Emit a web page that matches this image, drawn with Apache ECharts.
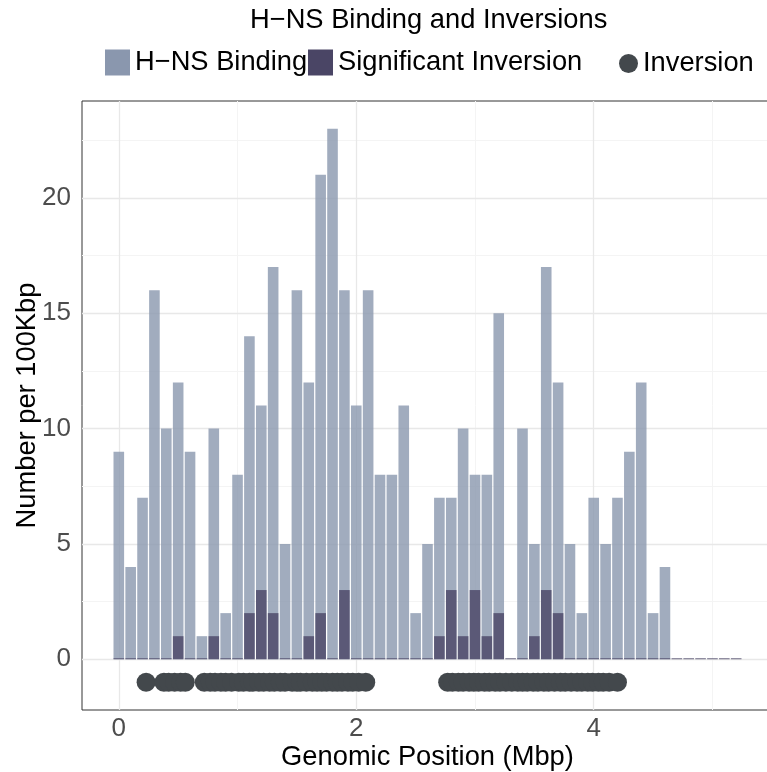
<!DOCTYPE html>
<html>
<head>
<meta charset="utf-8">
<script src="https://cdn.jsdelivr.net/npm/echarts@6/dist/echarts.min.js"></script>
<style>
  html, body { margin: 0; padding: 0; background: #fff; }
  #chart { width: 767px; height: 772px; }
</style>
</head>
<body>
<div id="chart"></div>
<script>
// 100 kbp bins along the genome (start position, Mbp)
const binStart = [
  0.0, 0.1, 0.2, 0.3, 0.4, 0.5, 0.6, 0.7, 0.8, 0.9,
  1.0, 1.1, 1.2, 1.3, 1.4, 1.5, 1.6, 1.7, 1.8, 1.9,
  2.0, 2.1, 2.2, 2.3, 2.4, 2.5, 2.6, 2.7, 2.8, 2.9,
  3.0, 3.1, 3.2, 3.3, 3.4, 3.5, 3.6, 3.7, 3.8, 3.9,
  4.0, 4.1, 4.2, 4.3, 4.4, 4.5, 4.6, 4.7, 4.8, 4.9,
  5.0, 5.1, 5.2
];

// H-NS binding sites per bin
const hnsBinding = [
  9, 4, 7, 16, 10, 12, 9, 1, 10, 2,
  8, 14, 11, 17, 5, 16, 12, 21, 23, 16,
  11, 16, 8, 8, 11, 2, 5, 7, 7, 10,
  8, 8, 15, 0, 10, 5, 17, 12, 5, 2,
  7, 5, 7, 9, 12, 2, 4, 0, 0, 0,
  0, 0, 0
];

// significant inversions per bin
const sigInversion = [
  0, 0, 0, 0, 0, 1, 0, 0, 1, 0,
  0, 2, 3, 2, 0, 0, 1, 2, 0, 3,
  0, 0, 0, 0, 0, 0, 0, 1, 3, 1,
  3, 1, 2, 0, 0, 1, 3, 2, 0, 0,
  0, 0, 0, 0, 0, 0, 0, 0, 0, 0,
  0, 0, 0
];

// individual inversion positions (Mbp), drawn on a strip below the bars
const inversionPos = [
  0.23, 0.38, 0.42, 0.47, 0.52, 0.56,
  0.72, 0.77, 0.81, 0.86, 0.90, 0.95, 1.01, 1.05, 1.10, 1.13, 1.18, 1.22,
  1.27, 1.31, 1.36, 1.40, 1.46, 1.50, 1.53, 1.58, 1.63, 1.67, 1.71, 1.75,
  1.80, 1.84, 1.88, 1.93, 1.97, 2.02, 2.08,
  2.77, 2.81, 2.86, 2.90, 2.95, 2.99, 3.03, 3.08, 3.12, 3.17, 3.21, 3.26,
  3.31, 3.36, 3.40, 3.44, 3.49, 3.53, 3.58, 3.62, 3.67, 3.72, 3.76, 3.81,
  3.86, 3.90, 3.95, 3.99, 4.04, 4.08, 4.13, 4.20
];
const inversionY = -1;

// axis ticks and grid lines
const xTicks = [0, 2, 4];
const xMinor = [1, 3, 5];
const yTicks = [0, 5, 10, 15, 20];
const yMinor = [2.5, 7.5, 12.5, 17.5, 22.5];

const FONT = 'Liberation Sans';
const TEXT_SIZE = 27.3;

const chart = echarts.init(document.getElementById('chart'), null, { renderer: 'canvas' });

const majorStyle = { color: '#e8e8e8', width: 1.3, type: 'solid' };
const minorStyle = { color: '#f4f4f4', width: 1, type: 'solid' };
const gridLines = [].concat(
  xMinor.map(v => ({ xAxis: v, lineStyle: minorStyle })),
  yMinor.map(v => ({ yAxis: v, lineStyle: minorStyle })),
  xTicks.map(v => ({ xAxis: v, lineStyle: majorStyle })),
  yTicks.map(v => ({ yAxis: v, lineStyle: majorStyle }))
);

const legendText = { fontFamily: FONT, fontSize: TEXT_SIZE, color: '#000' };

chart.setOption({
  animation: false,
  title: {
    text: 'H\u2212NS Binding and Inversions',
    left: 245,
    top: 2,
    textStyle: { fontFamily: FONT, fontSize: TEXT_SIZE, fontWeight: 'normal', color: '#000' }
  },
  legend: [
    {
      data: [{ name: 'H\u2212NS Binding', icon: 'rect' }],
      left: 100, top: 44, itemWidth: 25, itemHeight: 26,
      itemStyle: { opacity: 1 },
      textStyle: legendText
    },
    {
      data: [{ name: 'Significant Inversion', icon: 'rect' }],
      left: 303, top: 44, itemWidth: 25, itemHeight: 26,
      itemStyle: { opacity: 1 },
      textStyle: legendText
    },
    {
      data: [{ name: 'Inversion', icon: 'circle' }],
      left: 614, top: 45, itemWidth: 19, itemHeight: 19,
      itemStyle: { opacity: 1 },
      textStyle: legendText
    }
  ],
  grid: {
    left: 82, top: 101, width: 691, height: 609,
    outerBoundsMode: 'none',
    containLabel: false,
    show: true, borderColor: '#333', borderWidth: 1, backgroundColor: '#fff'
  },
  xAxis: {
    type: 'value',
    min: -0.31, max: 5.51,
    name: 'Genomic Position (Mbp)',
    nameLocation: 'middle',
    nameGap: 34,
    nameMoveOverlap: false,
    nameTextStyle: { fontFamily: FONT, fontSize: TEXT_SIZE, color: '#000' },
    axisLine: { show: false },
    splitLine: { show: false },
    axisTick: { show: true, customValues: xTicks, length: 5, lineStyle: { color: '#333' } },
    axisLabel: {
      customValues: xTicks, margin: 6,
      fontFamily: FONT, fontSize: 26, color: '#4d4d4d'
    }
  },
  yAxis: {
    type: 'value',
    min: -2.2, max: 24.2,
    name: 'Number per 100Kbp',
    nameLocation: 'middle',
    nameGap: 41,
    nameMoveOverlap: false,
    nameTextStyle: { fontFamily: FONT, fontSize: TEXT_SIZE, color: '#000' },
    axisLine: { show: false },
    splitLine: { show: false },
    axisTick: { show: true, customValues: yTicks, length: 5, lineStyle: { color: '#333' } },
    axisLabel: {
      customValues: yTicks, margin: 11,
      fontFamily: FONT, fontSize: 26, color: '#4d4d4d'
    }
  },
  series: [
    {
      name: 'grid',
      type: 'scatter',
      data: [],
      silent: true,
      markLine: {
        silent: true, symbol: 'none', z: 1,
        label: { show: false },
        data: gridLines
      }
    },
    {
      name: 'H\u2212NS Binding',
      type: 'bar',
      barWidth: 10.6,
      barGap: '-100%',
      z: 2,
      itemStyle: { color: '#8a97ae', opacity: 0.8 },
      data: binStart.map((x, i) => [x, hnsBinding[i]])
    },
    {
      name: 'Significant Inversion',
      type: 'bar',
      barWidth: 10.6,
      barGap: '-100%',
      barMinHeight: 1,
      z: 3,
      itemStyle: { color: '#4a4565', opacity: 0.8 },
      data: binStart.map((x, i) => [x, sigInversion[i]])
    },
    {
      name: 'Inversion',
      type: 'scatter',
      symbol: 'circle',
      symbolSize: 19,
      z: 4,
      itemStyle: { color: '#43484c', opacity: 1 },
      data: inversionPos.map(x => [x, inversionY])
    }
  ]
});
</script>
</body>
</html>
